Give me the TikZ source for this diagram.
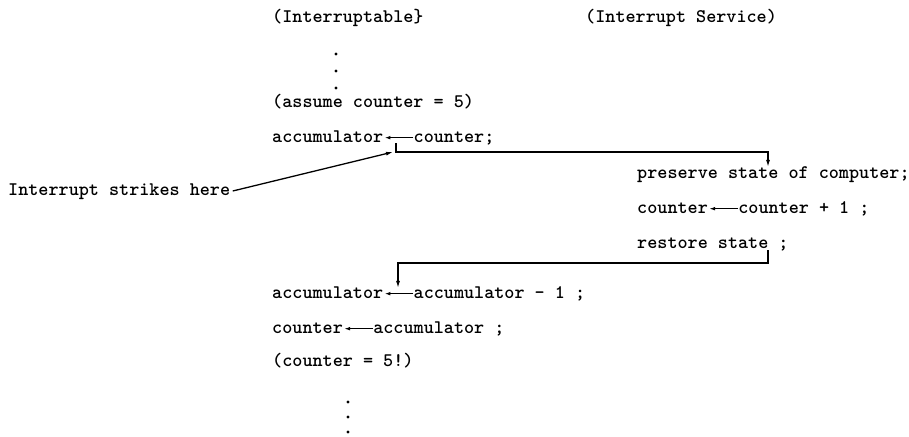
\documentclass[tikz,border=0pt]{standalone}
\usetikzlibrary{positioning,arrows.meta}

\tikzset{
  prog/.style={anchor=base west, inner sep=0pt, font=\fontsize{16.4}{20}\selectfont\ttfamily\bfseries},
  gets/.style={-{Latex[length=5pt,width=3.2pt]}, line width=1.1pt, shorten >=1pt},
  flow/.style={-{Latex[length=6pt,width=3.4pt]}, line width=1.1pt},
  vdot/.style={circle, fill, inner sep=0pt, minimum size=2.8pt},
}
% arrow of an assignment, from the right side to the left side
\newcommand{\assign}[2]{\draw[gets] ([yshift=0.13cm]#2.base west) -- ([yshift=0.13cm]#1.base east);}

\begin{document}
\begin{tikzpicture}[x=0.03cm, y=-0.03cm]
    \useasboundingbox (0,0) rectangle (909,436);

    % headings
    \node[prog] (main) at (272,22) {(Interruptable\}};
    \node[prog] (isr) at (585,22) {(Interrupt Service)};

    % interruptable program
    \foreach \y [count=\i] in {54,71,88}
        \node[vdot] (up\i) at (336,\y) {};
    \node[prog] (assume) at (272,107) {(assume counter = 5)};
    \node[prog] (acca) at (272,142) {accumulator};
    \node[prog, base right=0.9cm of acca] (cnta) {counter;};
    \assign{acca}{cnta}

    \node[prog] (accb) at (272,298) {accumulator};
    \node[prog, base right=0.9cm of accb] (decr) {accumulator - 1 ;};
    \assign{accb}{decr}
    \node[prog] (cntb) at (272,333) {counter};
    \node[prog, base right=0.9cm of cntb] (accc) {accumulator ;};
    \assign{cntb}{accc}
    \node[prog] (check) at (272,366) {(counter = 5!)};
    \foreach \y [count=\i] in {402,417,432}
        \node[vdot] (down\i) at (348,\y) {};

    % interrupt service
    \node[prog] (save) at (637,178) {preserve state of computer;};
    \node[prog] (cntc) at (637,213) {counter};
    \node[prog, base right=0.9cm of cntc] (incr) {counter + 1 ;};
    \assign{cntc}{incr}
    \node[prog] (restore) at (637,248) {restore state ;};

    % interrupt
    \node[prog] (strike) at (8,195) {Interrupt strikes here};
    \coordinate (brk) at (396,143);
    \coordinate (hit) at (393,152);
    \coordinate (into) at (768,167);
    \coordinate (back) at (768,250);
    \coordinate (resume) at (398,288);

    \draw[flow] ([xshift=2pt,yshift=0.12cm]strike.base east) -- (hit);
    \draw[flow] (brk) -- ++(0,9) -| (into);
    \draw[flow] (back) -- ++(0,13) -| (resume);
\end{tikzpicture}
\end{document}
